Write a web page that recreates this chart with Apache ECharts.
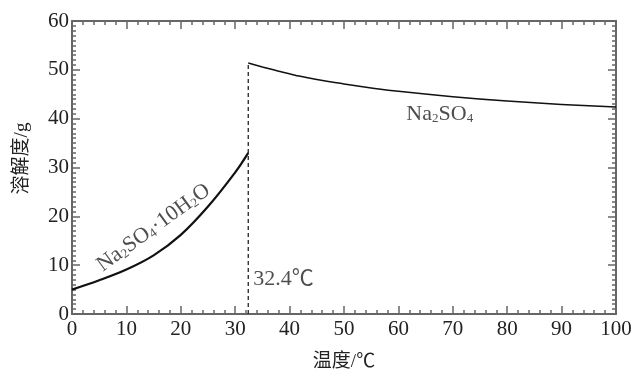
<!DOCTYPE html>
<html>
<head>
<meta charset="utf-8">
<script src="https://cdn.jsdelivr.net/npm/echarts@6/dist/echarts.min.js"></script>
<style>
  html, body { margin: 0; padding: 0; background: #fff; }
  #chart { width: 633px; height: 372px; }
</style>
</head>
<body>
<div id="chart"></div>
<script>
// 数据
var hydrateT = [0, 5, 10, 15, 20, 25, 30, 32.4];
var hydrateS = [5, 6.9, 9.1, 12, 16.2, 22, 29, 33];
var anhydT = [32.4, 35, 38, 41, 45, 50, 55, 60, 70, 80, 90, 100];
var anhydS = [51.4, 50.6, 49.7, 48.9, 48, 47.1, 46.3, 45.6, 44.5, 43.6, 42.9, 42.4];
var transT = [32.4, 32.4];
var transS = [0, 51.4];
// 标注: [x, y, 文字, 旋转]
var notes = [
  [14.8, 18, '{a|Na}{s|2}{a|SO}{s|4}{a|·10H}{s|2}{a|O}', 36],
  [67.6, 41.3, '{a|Na}{s|2}{a|SO}{s|4}', 0],
  [38.9, 7.6, '{a|32.4℃}', 0]
];

function pairs(xs, ys) {
  return xs.map(function (x, i) { return [x, ys[i]]; });
}

var serif = '"Liberation Serif", "Times New Roman", serif';
var cjk = '"Liberation Serif", "Noto Sans CJK SC", serif';
var axisColor = '#666';
var textColor = '#222';

function xAx(pos) {
  return {
    type: 'value', position: pos, min: 0, max: 100, interval: 10,
    axisLine: { show: true, onZero: false, lineStyle: { color: axisColor, width: 2 } },
    axisTick: { show: true, inside: true, length: 8, lineStyle: { color: axisColor, width: 1.5 } },
    minorTick: { show: true, splitNumber: 5, length: 4, lineStyle: { color: axisColor, width: 1.5 } },
    axisLabel: { show: pos === 'bottom', color: textColor, fontFamily: serif, fontSize: 21, margin: 5 },
    splitLine: { show: false },
    name: pos === 'bottom' ? '温度/℃' : '',
    nameLocation: 'middle', nameGap: 39,
    nameTextStyle: { color: textColor, fontFamily: cjk, fontSize: 19 }
  };
}
function yAx(pos) {
  return {
    type: 'value', position: pos, min: 0, max: 60, interval: 10,
    axisLine: { show: true, onZero: false, lineStyle: { color: axisColor, width: 2 } },
    axisTick: { show: true, inside: true, length: 8, lineStyle: { color: axisColor, width: 1.5 } },
    minorTick: { show: true, splitNumber: 10, length: 4, lineStyle: { color: axisColor, width: 1.5 } },
    axisLabel: { show: pos === 'left', color: textColor, fontFamily: serif, fontSize: 21, margin: 3 },
    splitLine: { show: false },
    name: pos === 'left' ? '溶解度/g' : '',
    nameLocation: 'middle', nameGap: 40, nameRotate: 90,
    nameTextStyle: { color: textColor, fontFamily: cjk, fontSize: 19, padding: [0, 0, 0, 18] }
  };
}

var chart = echarts.init(document.getElementById('chart'));
chart.setOption({
  animation: false,
  grid: { left: 72, right: 17, top: 21, bottom: 58, outerBoundsMode: 'none' },
  xAxis: [xAx('bottom'), xAx('top')],
  yAxis: [yAx('left'), yAx('right')],
  series: [
    {
      type: 'line', data: pairs(hydrateT, hydrateS), smooth: 0.35, showSymbol: false,
      lineStyle: { color: '#111', width: 2.2 }
    },
    {
      type: 'line', data: pairs(anhydT, anhydS), smooth: 0.5, showSymbol: false,
      lineStyle: { color: '#111', width: 1.5 }
    },
    {
      type: 'line', data: pairs(transT, transS), showSymbol: false,
      lineStyle: { color: '#222', width: 1.3, type: [4, 3] }
    },
    {
      type: 'scatter', symbolSize: 0, silent: true,
      data: notes.map(function (n) {
        return {
          value: [n[0], n[1]],
          label: { show: true, position: 'inside', rotate: n[3], formatter: n[2] }
        };
      }),
      label: {
        color: textColor,
        rich: {
          a: { fontFamily: cjk, fontSize: 22, color: textColor, lineHeight: 26, verticalAlign: 'bottom' },
          s: { fontFamily: serif, fontSize: 13, color: textColor, lineHeight: 19, verticalAlign: 'bottom' }
        }
      }
    }
  ]
});
</script>
</body>
</html>
